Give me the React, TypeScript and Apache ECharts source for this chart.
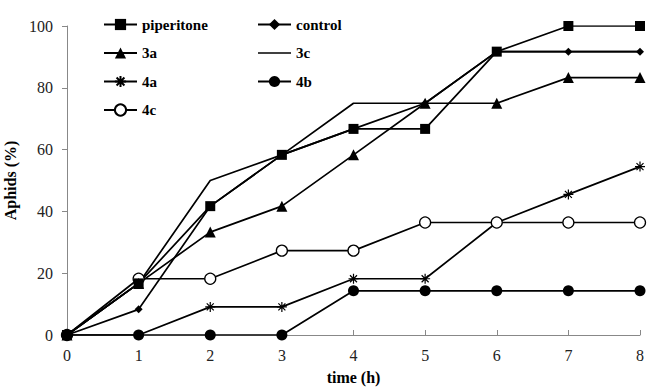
import React, { useEffect, useRef } from "react";
import * as echarts from "echarts";

const hours = ["0", "1", "2", "3", "4", "5", "6", "7", "8"];
const piperitone = [0, 16.7, 41.7, 58.3, 66.7, 66.7, 91.7, 100, 100];
const control = [0, 8.3, 41.7, 58.3, 66.7, 75, 91.7, 91.7, 91.7];
const s3a = [0, 16.7, 33.3, 41.7, 58.3, 75, 75, 83.3, 83.3];
const s3c = [0, 16.7, 50, 58.3, 75, 75, 91.7, 91.7, 91.7];
const s4a = [0, 0, 9.1, 9.1, 18.2, 18.2, 36.4, 45.5, 54.5];
const s4b = [0, 0, 0, 0, 14.3, 14.3, 14.3, 14.3, 14.3];
const s4c = [0, 18.2, 18.2, 27.3, 27.3, 36.4, 36.4, 36.4, 36.4];

const FONT = "Liberation Serif";
const ASTERISK =
  "path://M0,5L10,5M5,0L5,10M1.5,1.5L8.5,8.5M1.5,8.5L8.5,1.5";
const LINE_ICON = "path://M0,0L33,0L33,1.6L0,1.6Z";

export default function App() {
  const ref = useRef<HTMLDivElement>(null);
  useEffect(() => {
    if (!ref.current) return;
    const chart = echarts.init(ref.current, undefined, { renderer: "svg" });
    const line = (
      name: string,
      data: number[],
      symbol: string,
      symbolSize: number,
      itemStyle: any
    ) => ({
      name,
      type: "line",
      data,
      symbol,
      symbolSize,
      showSymbol: symbol !== "none",
      lineStyle: { color: "#000", width: 1.7 },
      itemStyle,
      z: 2,
    });
    const black = { color: "#000", borderColor: "#000", borderWidth: 0 };
    const legendText = { fontFamily: FONT, fontWeight: "bold", fontSize: 15, color: "#000" };
    chart.setOption({
      animation: false,
      backgroundColor: "#fff",
      textStyle: { fontFamily: FONT },
      grid: { left: 67, right: 9, top: 26, bottom: 53, outerBoundsMode: "none", containLabel: false },
      legend: [
        {
          data: ["piperitone", "3a", "4a", "4c"],
          orient: "vertical",
          left: 98,
          top: 12,
          itemWidth: 33,
          itemHeight: 14,
          itemGap: 13.5,
          textStyle: legendText,
        },
        {
          data: ["control", { name: "3c", icon: LINE_ICON }, "4b"],
          orient: "vertical",
          left: 252,
          top: 12,
          itemWidth: 33,
          itemHeight: 14,
          itemGap: 13.5,
          textStyle: legendText,
        },
      ],
      xAxis: {
        type: "category",
        data: hours,
        boundaryGap: false,
        name: "time (h)",
        nameLocation: "middle",
        nameGap: 34,
        nameTextStyle: { fontFamily: FONT, fontWeight: "bold", fontSize: 16, color: "#000" },
        axisLine: { lineStyle: { color: "#888", width: 1 } },
        axisTick: { inside: true, length: 5, lineStyle: { color: "#888" } },
        axisLabel: { fontFamily: FONT, fontSize: 16, color: "#222", margin: 12 },
        splitLine: { show: false },
      },
      yAxis: {
        type: "value",
        min: 0,
        max: 100,
        interval: 20,
        name: "Aphids (%)",
        nameLocation: "middle",
        nameGap: 40,
        nameRotate: 90,
        nameTextStyle: { fontFamily: FONT, fontWeight: "bold", fontSize: 16, color: "#000" },
        axisLine: { show: true, lineStyle: { color: "#888", width: 1 } },
        axisTick: { show: true, length: 5, lineStyle: { color: "#888" } },
        axisLabel: { fontFamily: FONT, fontSize: 16, color: "#222", margin: 14 },
        splitLine: { show: false },
      },
      series: [
        line("4b", s4b, "circle", 11, black),
        line("4a", s4a, ASTERISK, 10, { color: "#000", borderColor: "#000", borderWidth: 1.2 }),
        line("4c", s4c, "circle", 11, { color: "#fff", borderColor: "#000", borderWidth: 1.3 }),
        line("3c", s3c, "none", 0, black),
        line("3a", s3a, "triangle", 11, black),
        line("control", control, "diamond", 8, black),
        line("piperitone", piperitone, "rect", 10, black),
      ],
    });
    return () => chart.dispose();
  }, []);
  return (
    <div
      ref={ref}
      style={{ position: "fixed", left: 0, top: 0, width: 649, height: 388 }}
    />
  );
}
